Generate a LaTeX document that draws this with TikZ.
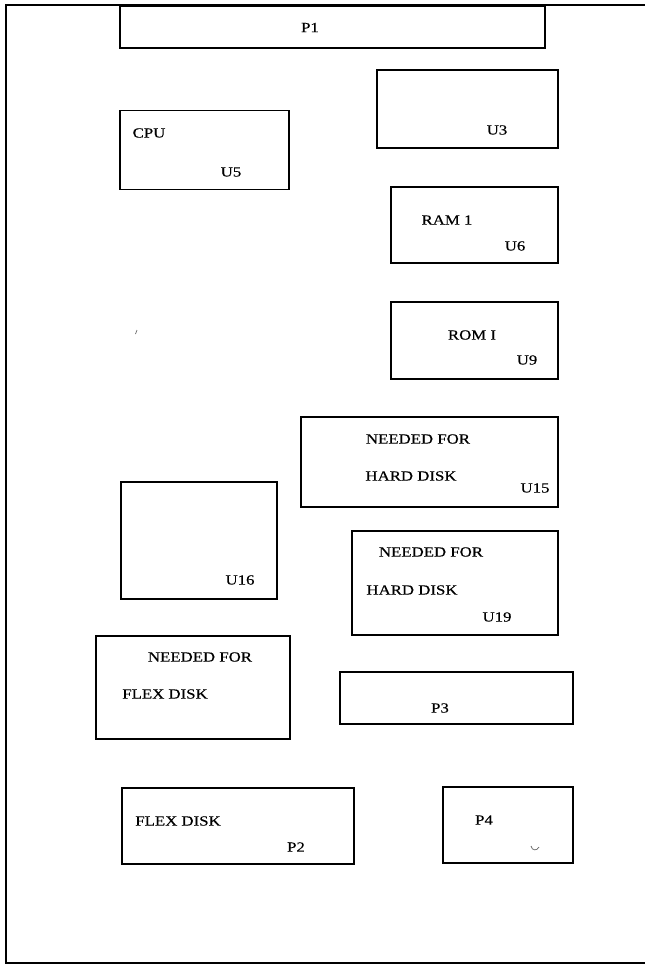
\documentclass[tikz,border=0pt]{standalone}
\usepackage{graphicx}
\usepackage{fontspec}
\setmainfont{Liberation Serif}
\newfontfamily\lblfont{Liberation Serif}[FakeBold=0.4]
\newcommand\widetxt[1]{\scalebox{1.2}[1]{#1}}
\begin{document}
\begin{tikzpicture}[x=1pt,y=-1pt,
  box/.style={draw, line width=1.6pt, rectangle, inner sep=0pt},
  lbl/.style={font=\lblfont\fontsize{14}{14}\selectfont, inner sep=0pt},
  frame/.style={line width=1.6pt},
  speck/.style={line width=0.7pt, draw=black!60}]
\useasboundingbox (0,0) rectangle (645,967);
% outer board outline
\coordinate (tl) at (6,5);
\coordinate (tr) at (645,5);
\coordinate (bl) at (6,963);
\coordinate (br) at (645,963);
\draw[frame] (tr) -- (tl) -- (bl) -- (br);
% boxes
\node[box, minimum width=425pt, minimum height=42pt] (p1) at (332.5,27) {};
\node[box, minimum width=181pt, minimum height=78pt] (u3) at (467.5,109) {};
\node[box, minimum width=169pt, minimum height=79pt] (u5) at (204.5,150) {};
\node[box, minimum width=167pt, minimum height=76pt] (u6) at (474.5,225) {};
\node[box, minimum width=167pt, minimum height=77pt] (u9) at (474.5,340.5) {};
\node[box, minimum width=257pt, minimum height=90pt] (u15) at (429.5,462) {};
\node[box, minimum width=156pt, minimum height=117pt] (u16) at (199,540.5) {};
\node[box, minimum width=206pt, minimum height=104pt] (u19) at (455,583) {};
\node[box, minimum width=194pt, minimum height=103pt] (fdn) at (193,687.5) {};
\node[box, minimum width=233pt, minimum height=52pt] (p3) at (456.5,698) {};
\node[box, minimum width=232pt, minimum height=76pt] (p2) at (238,826) {};
\node[box, minimum width=130pt, minimum height=76pt] (p4) at (508,825) {};
% labels
\node[lbl] (tp1) at (310,27.5) {\widetxt{P1}};
\node[lbl] (tu3) at (497,130) {\widetxt{U3}};
\node[lbl] (tcpu) at (149,133) {\widetxt{CPU}};
\node[lbl] (tu5) at (231,172) {\widetxt{U5}};
\node[lbl] (tram) at (447,220) {\widetxt{RAM 1}};
\node[lbl] (tu6) at (515,246) {\widetxt{U6}};
\node[lbl] (trom) at (472,335) {\widetxt{ROM I}};
\node[lbl] (tu9) at (527,360) {\widetxt{U9}};
\node[lbl] (tn15) at (418,439) {\widetxt{NEEDED FOR}};
\node[lbl] (th15) at (411,476) {\widetxt{HARD DISK}};
\node[lbl] (tu15) at (535,488) {\widetxt{U15}};
\node[lbl] (tu16) at (240,580) {\widetxt{U16}};
\node[lbl] (tn19) at (431,552) {\widetxt{NEEDED FOR}};
\node[lbl] (th19) at (412,590) {\widetxt{HARD DISK}};
\node[lbl] (tu19) at (497,617) {\widetxt{U19}};
\node[lbl] (tnf) at (200,657) {\widetxt{NEEDED FOR}};
\node[lbl] (tff) at (165,694) {\widetxt{FLEX DISK}};
\node[lbl] (tp3) at (440,708) {\widetxt{P3}};
\node[lbl] (tfd) at (178,821) {\widetxt{FLEX DISK}};
\node[lbl] (tp2) at (296,847) {\widetxt{P2}};
\node[lbl] (tp4) at (484,820) {\widetxt{P4}};
% small stray marks
\coordinate (s1a) at (135.5,334);
\coordinate (s1b) at (137,330);
\draw[speck] (s1a) -- (s1b);
\coordinate (s2a) at (531,846);
\coordinate (s2b) at (539,847);
\draw[speck] (s2a) .. controls (532,851) and (537,851) .. (s2b);
\end{tikzpicture}
\end{document}
